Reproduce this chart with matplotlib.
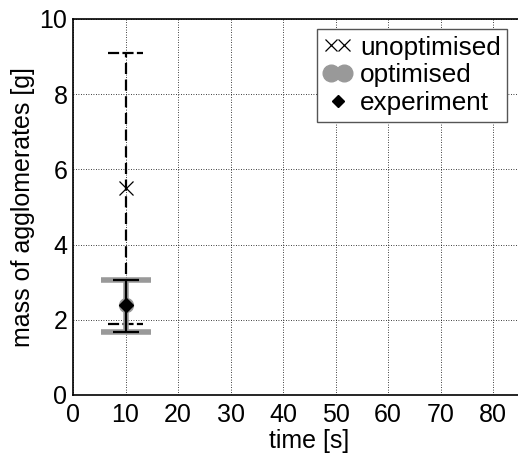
import matplotlib
matplotlib.use("Agg")
import matplotlib.pyplot as plt
from matplotlib.lines import Line2D
from matplotlib.legend_handler import HandlerLine2D

plt.rcParams['font.family'] = ['Liberation Sans', 'DejaVu Sans']

# agglomerate mass at t = 10 s
t_point = [10]
unopt_mass = [5.5]
unopt_low = [1.9]
unopt_high = [9.1]
opt_mass = [2.4]
opt_low = [1.68]
opt_high = [3.05]
exp_mass = [2.4]
exp_low = [1.68]
exp_high = [3.05]

gray = '#999999'
fs = 18

fig = plt.figure(figsize=(5.18, 4.59), dpi=100)
ax = fig.add_axes([73 / 518, 1 - 395 / 459, 472.5 / 518, 376 / 459])

# unoptimised: dashed range with dashed caps
for t, lo, hi, m in zip(t_point, unopt_low, unopt_high, unopt_mass):
    ax.plot([t, t], [lo, hi], color='k', lw=1.6, ls=(0, (5, 2.5)), zorder=3)
    for y in (lo, hi):
        ax.plot([t - 3.4, t + 3.4], [y, y], color='k', lw=1.6,
                ls=(0, (5, 1.5)), zorder=3)
ax.plot(t_point, unopt_mass, ls='none', marker='x', ms=10, mew=0.9,
        color='k', zorder=4)

# optimised: thick gray range
opt_err = [[m - lo for m, lo in zip(opt_mass, opt_low)],
           [hi - m for m, hi in zip(opt_mass, opt_high)]]
ax.errorbar(t_point, opt_mass, yerr=opt_err, fmt='o', color=gray, ms=10,
            elinewidth=4, capsize=18, capthick=4, zorder=5)

# experiment: thin black range
exp_err = [[m - lo for m, lo in zip(exp_mass, exp_low)],
           [hi - m for m, hi in zip(exp_mass, exp_high)]]
ax.errorbar(t_point, exp_mass, yerr=exp_err, fmt='D', color='k', ms=7,
            elinewidth=1.6, capsize=9.5, capthick=1.6, zorder=6)

ax.set_xlim(0, 90)
ax.set_ylim(0, 10)
ax.set_xticks(range(0, 90, 10))
ax.set_yticks(range(0, 11, 2))
ax.grid(True, color='k', ls=(0, (1, 2)), lw=0.6)
ax.tick_params(direction='in', length=0, labelsize=fs)
ax.tick_params(axis='y', pad=4)
ax.tick_params(axis='x', pad=6)
for s in ax.spines.values():
    s.set_linewidth(1.2)

ax.set_xlabel('time [s]', fontsize=fs, labelpad=1)
ax.set_ylabel('mass of agglomerates [g]', fontsize=fs, labelpad=3)

handles = [
    Line2D([], [], ls='none', marker='x', ms=9, mew=0.9, color='k'),
    Line2D([], [], ls='none', marker='o', ms=12, color=gray),
    Line2D([], [], ls='none', marker='D', ms=6.5, color='k'),
]
labels = ['unoptimised', 'optimised', 'experiment']
leg = ax.legend(handles, labels, loc='upper left',
                bbox_to_anchor=(317 / 518, 1 - 29 / 459),
                bbox_transform=fig.transFigure, fontsize=18.8,
                handlelength=1.1, handletextpad=0.3, borderpad=0.25,
                labelspacing=0.15, borderaxespad=0, fancybox=False,
                framealpha=1,
                handler_map={handles[0]: HandlerLine2D(numpoints=2),
                             handles[1]: HandlerLine2D(numpoints=2),
                             handles[2]: HandlerLine2D(numpoints=1)})
leg.get_frame().set_edgecolor('#555555')
leg.get_frame().set_linewidth(1.0)

fig.savefig('out.png', dpi=100)
